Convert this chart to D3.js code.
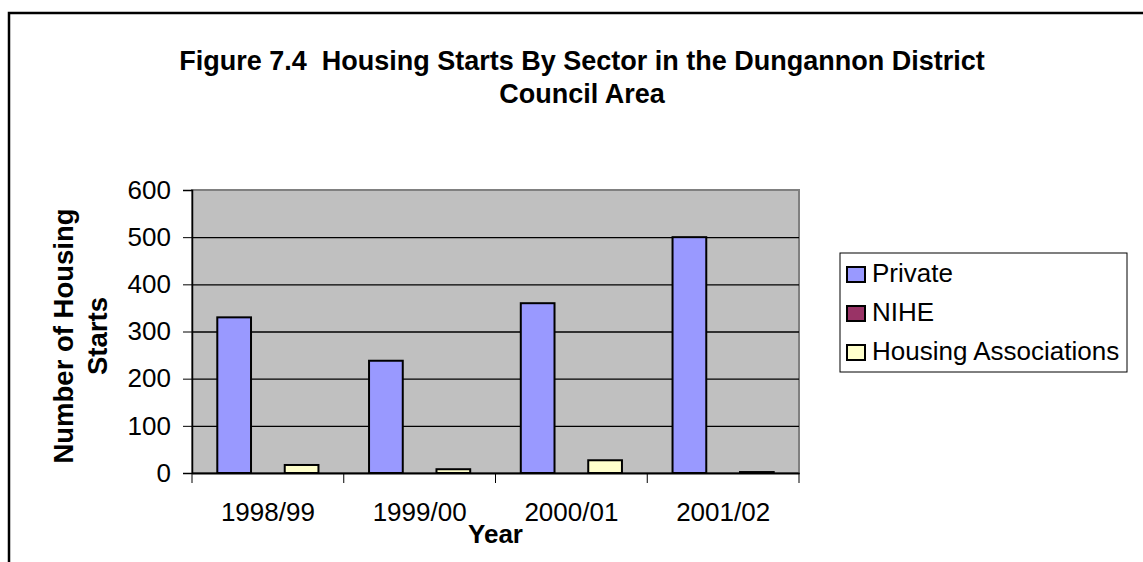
<!DOCTYPE html>
<html>
<head>
<meta charset="utf-8">
<title>Housing Starts By Sector</title>
<script src="https://cdn.jsdelivr.net/npm/d3@7"></script>
<style>
    body { margin: 0; background: #fff; }
    svg { font-family: Arial, "Liberation Sans", sans-serif; }
    text { white-space: pre; }
    .axis path, .axis line { stroke: #000; }
    .grid line { stroke: #000; stroke-width: 1.3; }
    .grid path { display: none; }
</style>
</head>
<body>
<script>
    // data
    var years = ["1998/99", "1999/00", "2000/01", "2001/02"];
    var seriesNames = ["Private", "NIHE", "Housing Associations"];
    var privateStarts = [330, 238, 360, 500];
    var niheStarts = [0, 0, 0, 0];
    var assocStarts = [17, 8, 27, 2];
    var yTicks = [0, 100, 200, 300, 400, 500, 600];

    var colors = {"Private": "#9999ff", "NIHE": "#993366", "Housing Associations": "#ffffcc"};
    var values = {"Private": privateStarts, "NIHE": niheStarts, "Housing Associations": assocStarts};

    var width = 1143, height = 562;
    var plot = {left: 192, right: 799, top: 190, bottom: 473};

    var svg = d3.select("body").append("svg")
        .attr("width", width)
        .attr("height", height);

    // outer frame (top and left edges only are visible)
    svg.append("path")
        .attr("d", "M9,562 V13 H1143")
        .attr("fill", "none")
        .attr("stroke", "#000")
        .attr("stroke-width", 2.5);

    var x = d3.scaleBand().domain(years).range([plot.left, plot.right]);
    var xs = d3.scaleBand().domain(seriesNames).range([0, x.bandwidth()])
        .paddingInner(0).paddingOuter(0.75);
    var y = d3.scaleLinear().domain([0, 600]).range([plot.bottom, plot.top]);

    // plot background
    svg.append("rect")
        .attr("x", plot.left).attr("y", plot.top)
        .attr("width", plot.right - plot.left)
        .attr("height", plot.bottom - plot.top)
        .attr("fill", "#c0c0c0")
        .attr("stroke", "#808080")
        .attr("stroke-width", 2);

    // gridlines
    svg.append("g")
        .attr("class", "grid")
        .attr("transform", "translate(" + plot.left + ",0)")
        .call(d3.axisLeft(y).tickValues(yTicks.slice(1, -1))
            .tickSize(-(plot.right - plot.left)).tickFormat(""));

    // bars
    var groups = svg.append("g").selectAll("g")
        .data(seriesNames)
        .join("g")
        .attr("fill", function (s) { return colors[s]; });

    groups.selectAll("rect")
        .data(function (s) {
            return years.map(function (yr, i) { return {s: s, year: yr, v: values[s][i]}; });
        })
        .join("rect")
        .attr("x", function (d) { return x(d.year) + xs(d.s); })
        .attr("y", function (d) { return y(d.v); })
        .attr("width", xs.bandwidth())
        .attr("height", function (d) { return y(0) - y(d.v); })
        .attr("stroke", "#000")
        .attr("stroke-width", 2);

    // y axis
    var yAxis = svg.append("g")
        .attr("class", "axis")
        .attr("transform", "translate(" + plot.left + ",0)")
        .call(d3.axisLeft(y).tickValues(yTicks).tickSize(9).tickPadding(12));
    yAxis.select(".domain").attr("stroke-width", 1.5);
    yAxis.selectAll("text")
        .attr("font-size", 26)
        .attr("fill", "#000");

    // x axis
    var xAxis = svg.append("g")
        .attr("class", "axis")
        .attr("transform", "translate(0," + plot.bottom + ")")
        .call(d3.axisBottom(x).tickSize(0).tickPadding(30));
    xAxis.select(".domain").attr("stroke", "#555").attr("stroke-width", 2);
    xAxis.selectAll("text")
        .attr("font-size", 26)
        .attr("fill", "#000");

    // category separator ticks
    svg.append("g").selectAll("line")
        .data(years.concat(["end"]))
        .join("line")
        .attr("x1", function (d, i) { return plot.left + i * x.step(); })
        .attr("x2", function (d, i) { return plot.left + i * x.step(); })
        .attr("y1", plot.bottom)
        .attr("y2", plot.bottom + 10)
        .attr("stroke", "#000");

    // title
    var title = svg.append("text")
        .attr("text-anchor", "middle")
        .attr("font-weight", "bold")
        .attr("font-size", 27);
    title.append("tspan").attr("x", 582).attr("y", 70)
        .text("Figure 7.4  Housing Starts By Sector in the Dungannon District");
    title.append("tspan").attr("x", 582).attr("y", 103)
        .text("Council Area");

    // axis titles
    svg.append("text")
        .attr("x", (plot.left + plot.right) / 2)
        .attr("y", 543)
        .attr("text-anchor", "middle")
        .attr("font-weight", "bold")
        .attr("font-size", 26)
        .text("Year");

    var yTitle = svg.append("text")
        .attr("transform", "translate(0,336) rotate(-90)")
        .attr("text-anchor", "middle")
        .attr("font-weight", "bold")
        .attr("font-size", 27.5);
    yTitle.append("tspan").attr("x", 0).attr("y", 73).text("Number of Housing");
    yTitle.append("tspan").attr("x", 0).attr("y", 107).text("Starts");

    // legend
    var legend = svg.append("g").attr("transform", "translate(840,253)");
    legend.append("rect")
        .attr("width", 287).attr("height", 119)
        .attr("fill", "#fff")
        .attr("stroke", "#000")
        .attr("stroke-width", 1);

    var items = legend.selectAll("g.item")
        .data(seriesNames)
        .join("g")
        .attr("class", "item")
        .attr("transform", function (d, i) { return "translate(7," + (29 + i * 39) + ")"; });
    items.append("rect")
        .attr("x", 0).attr("y", -15)
        .attr("width", 18).attr("height", 15)
        .attr("fill", function (d) { return colors[d]; })
        .attr("stroke", "#000")
        .attr("stroke-width", 2);
    items.append("text")
        .attr("x", 25)
        .attr("font-size", 26)
        .text(function (d) { return d; });
</script>
</body>
</html>
